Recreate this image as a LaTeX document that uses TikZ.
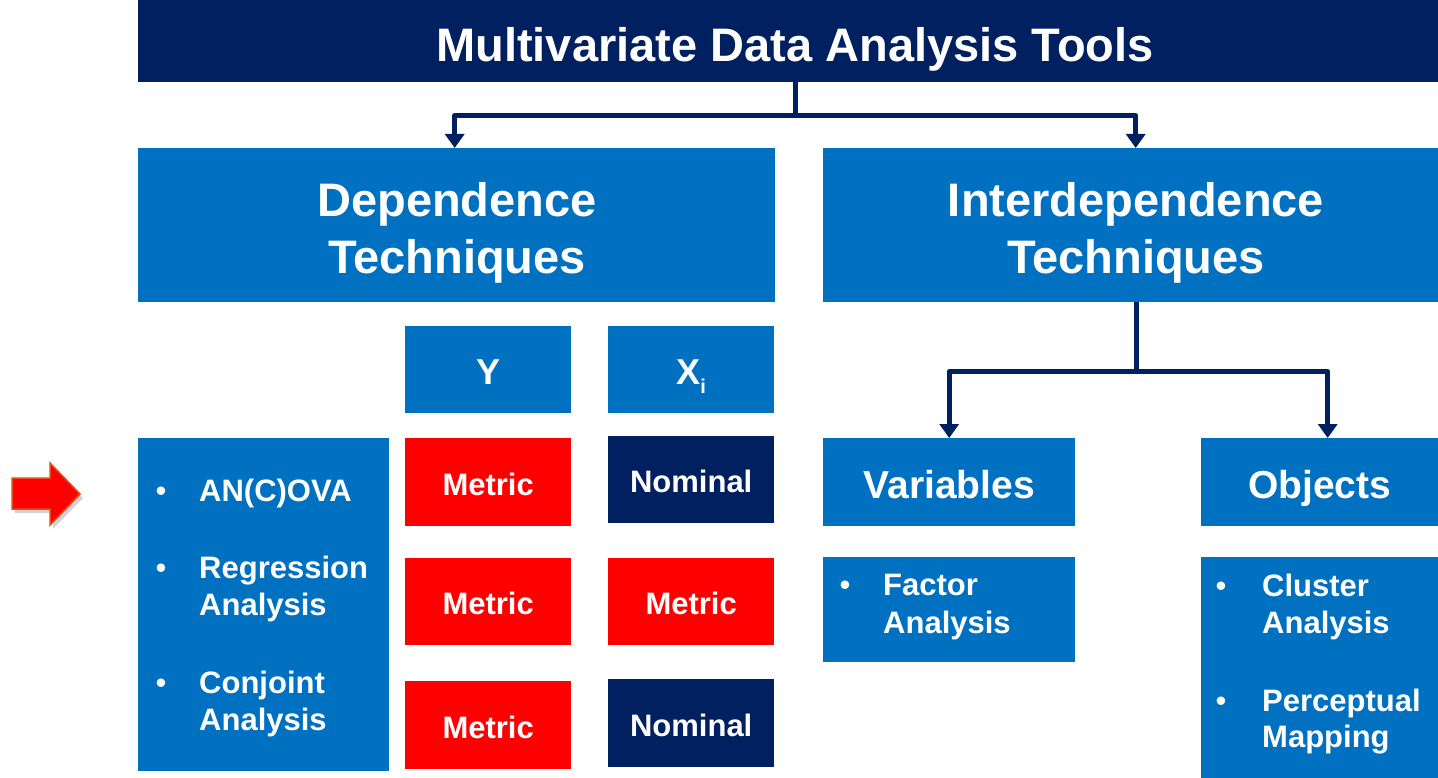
\documentclass[tikz,border=0pt]{standalone}
\usepackage{fontspec}
\setmainfont{Liberation Sans}
\usetikzlibrary{arrows.meta,shadows,calc}
\definecolor{navy}{RGB}{0,32,96}
\definecolor{mblue}{RGB}{0,112,192}
\definecolor{mred}{RGB}{255,0,0}
\definecolor{aorange}{RGB}{232,76,20}
\begin{document}
\begin{tikzpicture}[x=1pt,y=-1pt,
  box/.style={rectangle, inner sep=0pt, anchor=north west, text=white, align=center},
  bluebox/.style={box, fill=mblue},
  navybox/.style={box, fill=navy},
  redbox/.style={box, fill=mred},
  big/.style={font=\fontsize{47}{57}\selectfont\bfseries},
  mid/.style={font=\fontsize{39}{47}\selectfont\bfseries, text height=33pt, text depth=0pt},
  small/.style={font=\fontsize{31}{37}\selectfont\bfseries, text height=26pt, text depth=0pt},
  head/.style={font=\fontsize{36}{40}\selectfont\bfseries, text height=29pt, text depth=0pt},
  label/.style={text=white, big, inner sep=0pt, align=center},
  item/.style={anchor=base west, inner sep=0pt, text=white, font=\fontsize{31}{37}\selectfont\bfseries},
  dot/.style={anchor=base, inner sep=0pt, text=white, font=\fontsize{31}{31}\selectfont},
  conn/.style={draw=navy, line width=5pt, line join=round},
  arr/.style={conn, -{Triangle[width=19pt,length=14pt]}}
]
\useasboundingbox (0,0) rectangle (1438,778);

% title
\node[navybox, minimum width=1300pt, minimum height=82pt] (title) at (138,0) {};
\node[label, anchor=base] (titletext) at (795,62) {Multivariate Data Analysis Tools};

% main categories
\node[bluebox, minimum width=637pt, minimum height=154pt] (dep) at (138,148) {};
\node[label, anchor=base] (deptext1) at (457,217) {Dependence};
\node[label, anchor=base] (deptext2) at (457,273) {Techniques};
\node[bluebox, minimum width=615pt, minimum height=154pt] (inter) at (823,148) {};
\node[label, anchor=base] (intertext1) at (1136,217) {Interdependence};
\node[label, anchor=base] (intertext2) at (1136,273) {Techniques};

% Y / Xi headers
\node[bluebox, head, minimum width=166pt, minimum height=87pt] (y) at (405,326) {Y};
\node[bluebox, head, minimum width=166pt, minimum height=87pt] (xi) at (608,326) {X\raisebox{-9pt}{\fontsize{20}{20}\selectfont\bfseries i}};

% dependence list box
\node[bluebox, minimum width=251pt, minimum height=333pt] (deplist) at (138,438) {};
\node[dot] (d1) at (161,501) {•};
\node[item] (t1) at (199,501) {AN(C)OVA};
\node[dot] (d2) at (161,578) {•};
\node[item] (t2a) at (199,578) {Regression};
\node[item] (t2b) at (199,615) {Analysis};
\node[dot] (d3) at (161,693) {•};
\node[item] (t3a) at (199,693) {Conjoint};
\node[item] (t3b) at (199,730) {Analysis};

% scale boxes
\node[redbox, small, minimum width=166pt, minimum height=88pt] (m1) at (405,438) {Metric};
\node[navybox, small, minimum width=166pt, minimum height=87pt] (n1) at (608,436) {Nominal};
\node[redbox, small, minimum width=166pt, minimum height=87pt] (m2) at (405,558) {Metric};
\node[redbox, small, minimum width=166pt, minimum height=87pt] (m3) at (608,558) {Metric};
\node[redbox, small, minimum width=166pt, minimum height=88pt] (m4) at (405,681) {Metric};
\node[navybox, small, minimum width=166pt, minimum height=88pt] (n2) at (608,679) {Nominal};

% interdependence sub-boxes
\node[bluebox, mid, minimum width=252pt, minimum height=88pt] (var) at (823,438) {Variables};
\node[bluebox, mid, minimum width=237pt, minimum height=88pt] (obj) at (1201,438) {Objects};

\node[bluebox, minimum width=252pt, minimum height=105pt] (varlist) at (823,557) {};
\node[dot] (d4) at (845,595) {•};
\node[item] (t4a) at (883,595) {Factor};
\node[item] (t4b) at (883,633) {Analysis};

\node[bluebox, minimum width=237pt, minimum height=221pt] (objlist) at (1201,557) {};
\node[dot] (d5) at (1221,596) {•};
\node[item] (t5a) at (1262,596) {Cluster};
\node[item] (t5b) at (1262,633) {Analysis};
\node[dot] (d6) at (1221,711) {•};
\node[item] (t6a) at (1262,711) {Perceptual};
\node[item] (t6b) at (1262,747) {Mapping};

% connectors
\draw[conn] ([xshift=7pt]title.south) -- ++(0,33) coordinate (j1);
\draw[arr] (j1) -| ([xshift=-2pt]dep.north);
\draw[arr] (j1) -| ([xshift=5pt]inter.north);
\draw[conn] ([xshift=6pt]inter.south) -- ++(0,69) coordinate (j2);
\draw[arr] (j2) -| (var.north);
\draw[arr] (j2) -| ([xshift=8pt]obj.north);

% red pointer arrow
\filldraw[fill=mred, draw=aorange, line width=1.5pt, line join=miter, drop shadow={opacity=0.35, shadow xshift=3pt, shadow yshift=-4pt}]
  (12,478) -- (50,478) -- (50,463) -- (80,494) -- (50,525) -- (50,509) -- (12,509) -- cycle;
\end{tikzpicture}
\end{document}
